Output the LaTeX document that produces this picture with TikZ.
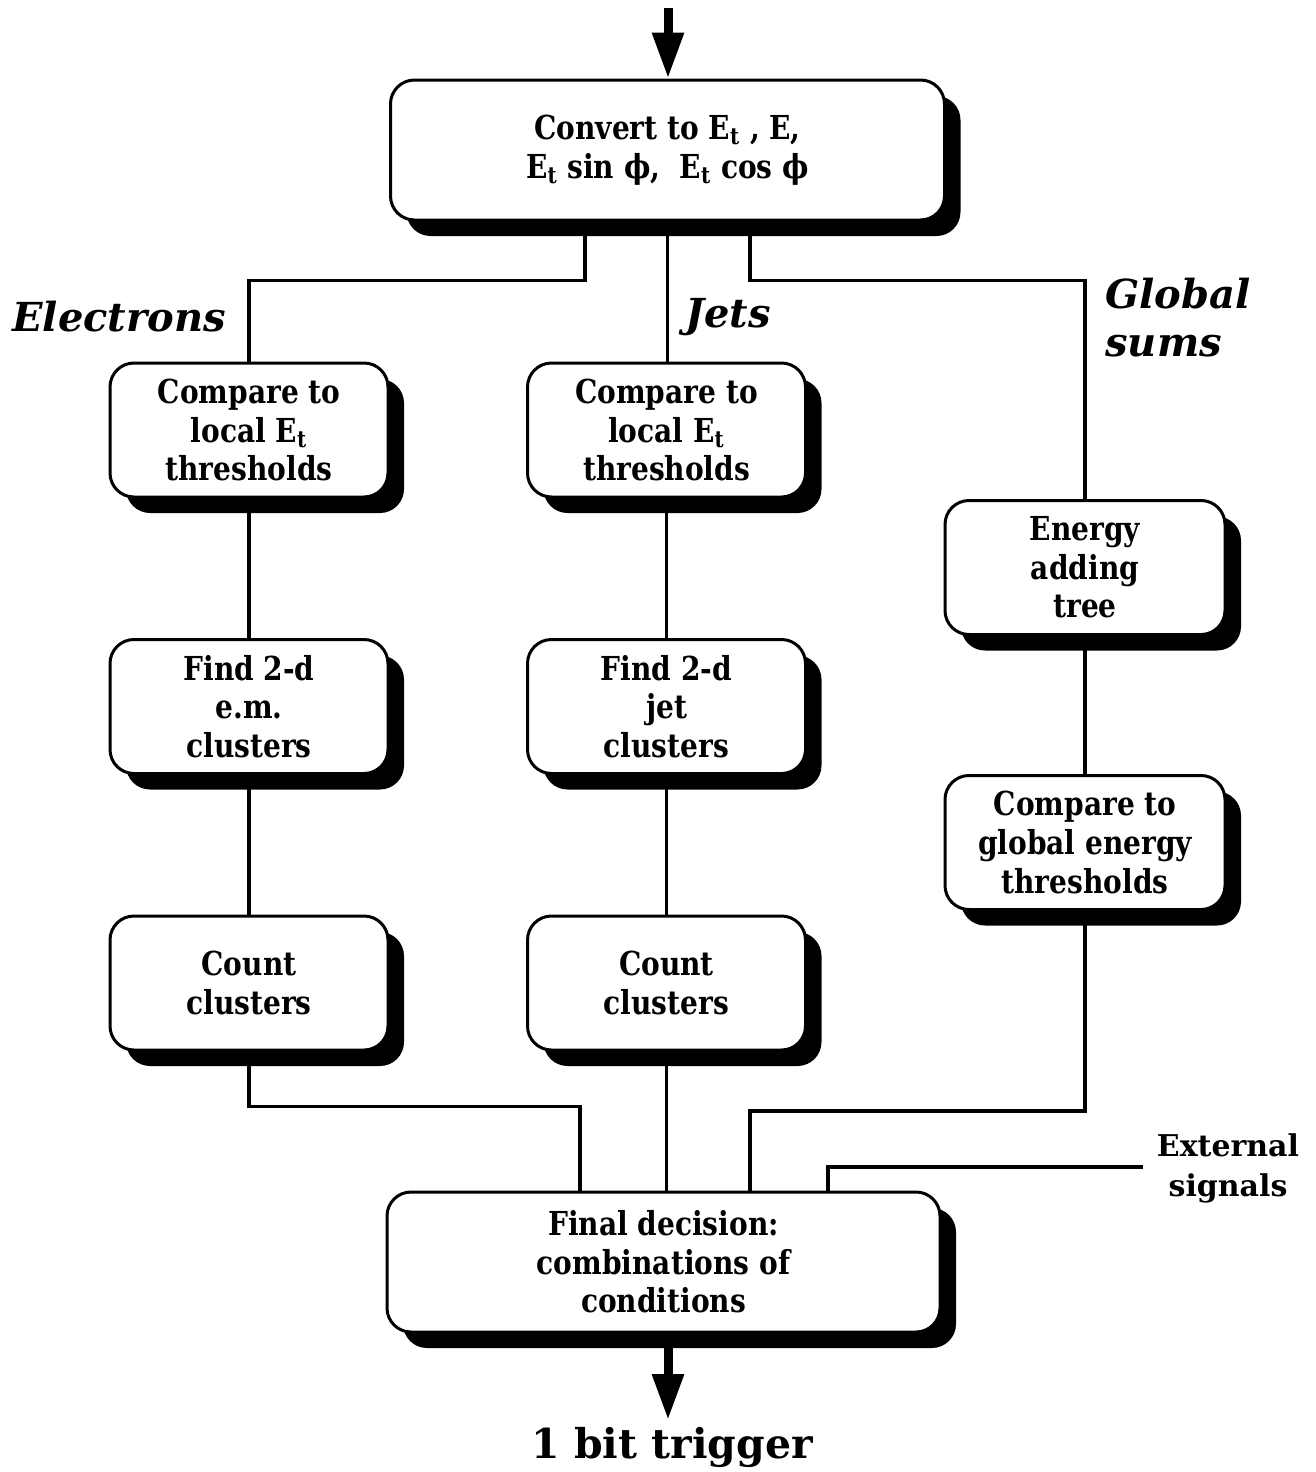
\documentclass[tikz,border=0pt]{standalone}
\usepackage{fontspec}
\setmainfont{DejaVu Serif}
\newfontfamily\boxfamily{DejaVu Serif}[FakeStretch=0.85]
\usetikzlibrary{arrows.meta,shadows}
\begin{document}
\begin{tikzpicture}[x=0.5pt,y=-0.5pt,
  box/.style={draw, line width=1.5pt, rounded corners=12pt, fill=white, align=center,
    font=\boxfamily\fontsize{16.5}{19.3}\selectfont\bfseries, inner sep=0pt,
    drop shadow={shadow xshift=8pt, shadow yshift=-8pt, fill=black, opacity=1}},
  wide/.style={box, minimum width=277pt, minimum height=70pt},
  small/.style={box, minimum width=139pt, minimum height=67pt},
  conn/.style={line width=1.6pt},
  bigarrow/.style={line width=4.5pt, -{Triangle[length=23pt,width=15pt]}},
  head/.style={font=\fontsize{20}{24}\selectfont\bfseries\itshape, align=left, inner sep=0pt}
]
\useasboundingbox (0,0) rectangle (1316,1472);

\node[wide] (top) at (667.5,150) {Convert to E\textsubscript{t} , E,\\E\textsubscript{t} sin ϕ,\ \ E\textsubscript{t} cos ϕ};

\node[small] (e1) at (249,430) {Compare to\\local E\textsubscript{t}\\thresholds};
\node[small] (e2) at (249,706.5) {Find 2-d\\e.m.\\clusters};
\node[small] (e3) at (249,983) {Count\\clusters};

\node[small] (j1) at (666.5,430) {Compare to\\local E\textsubscript{t}\\thresholds};
\node[small] (j2) at (666.5,706.5) {Find 2-d\\jet\\clusters};
\node[small] (j3) at (666.5,983) {Count\\clusters};

\node[small, minimum width=140pt] (g1) at (1085,567.5) {Energy\\adding\\tree};
\node[small, minimum width=140pt] (g2) at (1085,842.5) {Compare to\\global energy\\thresholds};

\node[wide, minimum width=276.5pt] (fin) at (663.5,1262) {Final decision:\\combinations of\\conditions};

\node[head, anchor=west] (lel) at (12,317) {Electrons};
\node[head, anchor=west] (ljet) at (685,317) {Jets};
\node[head, anchor=west] (lglob) at (1105,318) {Global\\sums};

\node[font=\fontsize{15}{20}\selectfont\bfseries, align=center, inner sep=0pt] (ext) at (1228,1168) {External\\signals};
\node[font=\fontsize{20.5}{24}\selectfont\bfseries, inner sep=0pt] (trig) at (672,1447) {1 bit trigger};

\coordinate (in) at (668,8);
\coordinate (out) at (668,1420);
\coordinate (extend) at (1143,1167);

\draw[bigarrow] (in) -- (top.north -| in);
\draw[bigarrow] (fin.south -| out) -- (out);

\draw[conn] ([xshift=-41.25pt]top.south) -- ++(0,59) -| (e1.north);
\draw[conn] (top.south) -- (top.south |- j1.north);
\draw[conn] ([xshift=41.25pt]top.south) -- ++(0,59) -| (g1.north);

\draw[conn] (e1) -- (e2);
\draw[conn] (e2) -- (e3);
\draw[conn] (j1) -- (j2);
\draw[conn] (j2) -- (j3);
\draw[conn] (g1) -- (g2);

\draw[conn] (e3.south) -- ++(0,55) -| ([xshift=-41.75pt]fin.north);
\draw[conn] (j3.south) -- (j3.south |- fin.north);
\draw[conn] (g2.south) -- ++(0,200) -| ([xshift=43.25pt]fin.north);
\draw[conn] (extend) -| ([xshift=82.25pt]fin.north);
\end{tikzpicture}
\end{document}
